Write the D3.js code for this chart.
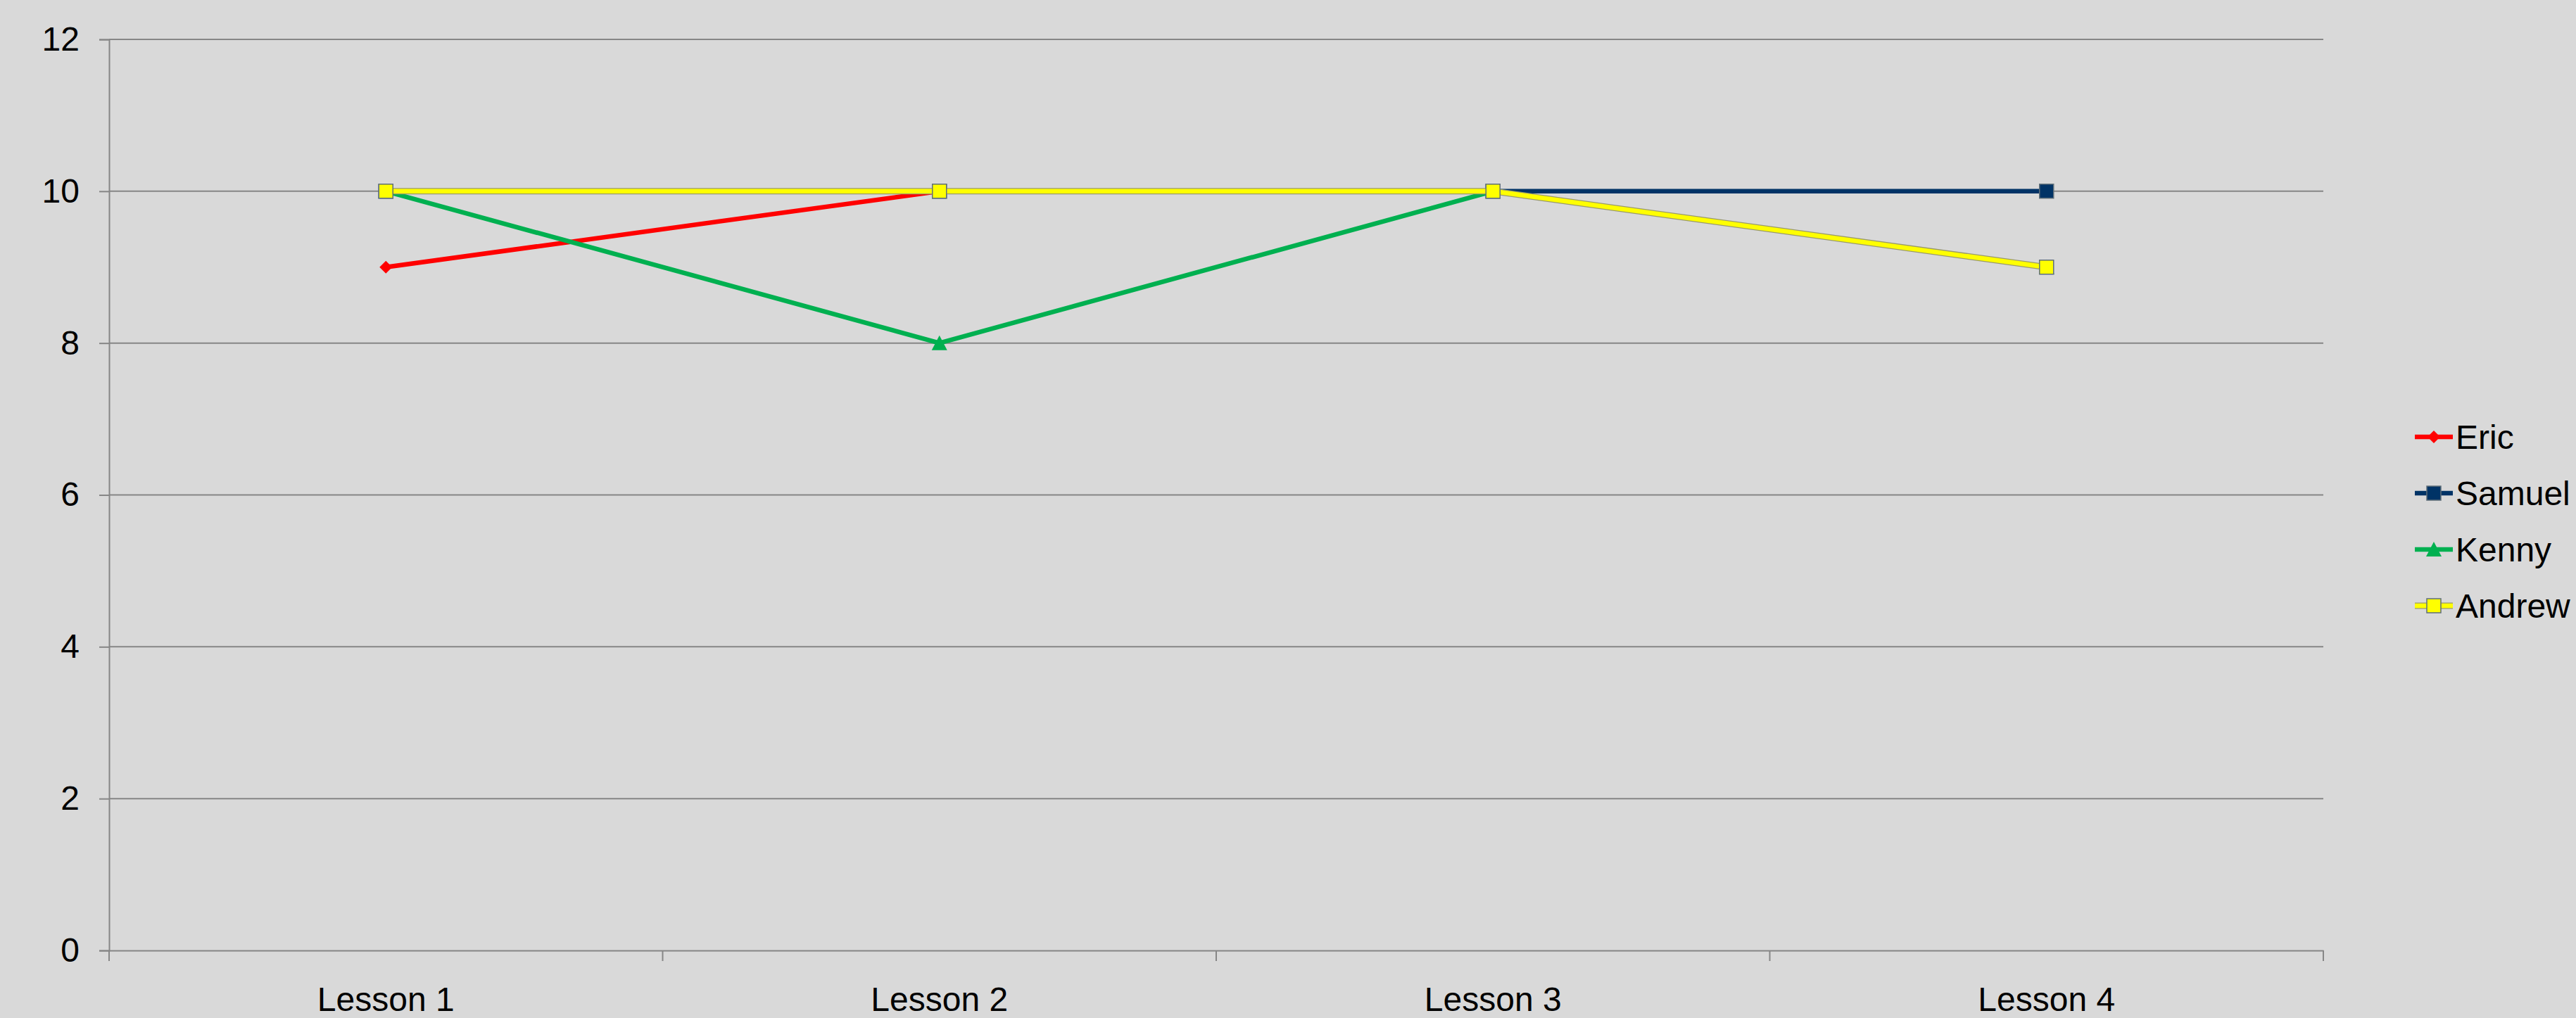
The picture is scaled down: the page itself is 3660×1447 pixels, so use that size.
<!DOCTYPE html>
<html>
<head>
<meta charset="utf-8">
<script src="https://cdn.jsdelivr.net/npm/d3@7"></script>
<style>
  html, body { margin: 0; padding: 0; background: #d9d9d9; }
  svg text { font-family: "Liberation Sans", Arial, sans-serif; fill: #000; }
</style>
</head>
<body>
<svg id="chart" width="3660" height="1447"></svg>
<script>
// Chart data
const lessons = ['Lesson 1', 'Lesson 2', 'Lesson 3', 'Lesson 4'];
const eric = [9, 10, 10, 9];
const samuel = [10, 10, 10, 10];
const kenny = [10, 8, 10, 9];
const andrew = [10, 10, 10, 9];
const yTicks = [0, 2, 4, 6, 8, 10, 12];

const series = [
  { name: 'Eric', values: eric, color: '#ff0000', symbol: 'diamond' },
  { name: 'Samuel', values: samuel, color: '#003366', symbol: 'square' },
  { name: 'Kenny', values: kenny, color: '#00b050', symbol: 'triangle' },
  { name: 'Andrew', values: andrew, color: '#ffff00', symbol: 'square', outline: '#9a9a6a' }
];

const svg = d3.select('#chart');
const plot = { left: 155, right: 3301, top: 56, bottom: 1351 };

const x = d3.scaleBand().domain(lessons).range([plot.left, plot.right]);
const y = d3.scaleLinear().domain([0, 12]).range([plot.bottom, plot.top]);

svg.append('rect').attr('width', 3660).attr('height', 1447).attr('fill', '#d9d9d9');

// gridlines
svg.append('g')
  .selectAll('line')
  .data(yTicks.filter(t => t > 0))
  .enter().append('line')
  .attr('x1', plot.left).attr('x2', plot.right)
  .attr('y1', d => y(d)).attr('y2', d => y(d))
  .attr('stroke', '#868686').attr('stroke-width', 2);

// y axis
const yAxis = svg.append('g')
  .attr('transform', `translate(${plot.left},0)`)
  .call(d3.axisLeft(y).tickValues(yTicks).tickSize(14).tickPadding(28));
yAxis.selectAll('path, line').attr('stroke', '#868686').attr('stroke-width', 2);
yAxis.selectAll('text').attr('font-size', 48).attr('font-family', '"Liberation Sans", Arial, sans-serif');

// x axis
const xAxis = svg.append('g')
  .attr('transform', `translate(0,${plot.bottom})`)
  .call(d3.axisBottom(x).tickSize(0).tickPadding(52));
xAxis.select('.domain').attr('stroke', '#868686').attr('stroke-width', 2);
xAxis.selectAll('text').attr('font-size', 48).attr('font-family', '"Liberation Sans", Arial, sans-serif');

// category boundary ticks
const bounds = lessons.map(l => x(l)).concat([x.range()[1]]);
svg.append('g')
  .selectAll('line')
  .data(bounds)
  .enter().append('line')
  .attr('x1', d => d).attr('x2', d => d)
  .attr('y1', plot.bottom).attr('y2', plot.bottom + 15)
  .attr('stroke', '#868686').attr('stroke-width', 2);

const cx = l => x(l) + x.bandwidth() / 2;

const symbolPath = {
  diamond: 'M0,-9L9,0L0,9L-9,0Z',
  square: 'M-10,-10H10V10H-10Z',
  triangle: 'M0,-11L11,10H-11Z'
};

const line = d3.line()
  .x((d, i) => cx(lessons[i]))
  .y(d => y(d));

function drawMarker(g, s, px, py) {
  g.append('path')
    .attr('d', symbolPath[s.symbol])
    .attr('transform', `translate(${px},${py})`)
    .attr('fill', s.color)
    .attr('stroke', s.symbol === 'square' ? '#5f6f7a' : 'none')
    .attr('stroke-width', 1.5);
}

series.forEach(s => {
  const g = svg.append('g');
  if (s.outline) {
    g.append('path').attr('d', line(s.values))
      .attr('fill', 'none').attr('stroke', s.outline).attr('stroke-width', 9);
  }
  g.append('path').attr('d', line(s.values))
    .attr('fill', 'none').attr('stroke', s.color).attr('stroke-width', 6.5)
    .attr('stroke-linejoin', 'round');
  s.values.forEach((v, i) => drawMarker(g, s, cx(lessons[i]), y(v)));
});

// legend
const legend = svg.append('g').attr('transform', 'translate(3431,621)');
series.forEach((s, i) => {
  const row = legend.append('g').attr('transform', `translate(0,${i * 80})`);
  if (s.outline) {
    row.append('line').attr('x1', 0).attr('x2', 54).attr('y1', 0).attr('y2', 0)
      .attr('stroke', s.outline).attr('stroke-width', 9);
  }
  row.append('line').attr('x1', 0).attr('x2', 54).attr('y1', 0).attr('y2', 0)
    .attr('stroke', s.color).attr('stroke-width', 6.5);
  drawMarker(row, s, 27, 0);
  row.append('text').attr('x', 58).attr('y', 0).attr('dy', '0.35em')
    .attr('font-size', 48).text(s.name);
});
</script>
</body>
</html>
